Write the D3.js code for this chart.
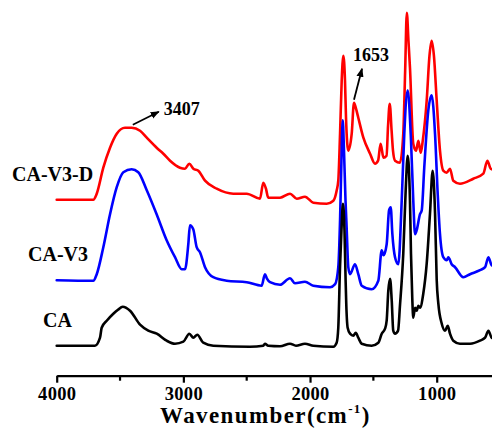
<!DOCTYPE html>
<html>
<head>
<meta charset="utf-8">
<script src="https://cdn.jsdelivr.net/npm/d3@7/dist/d3.min.js"></script>
<style>
  html, body { margin: 0; padding: 0; background: #fff; }
  svg { display: block; }
  text { font-family: "Liberation Serif", "Times New Roman", serif; font-weight: bold; fill: #000; }
</style>
</head>
<body>
<svg id="chart" width="492" height="428"></svg>
<script>
// ---- data (wavenumber cm^-1, absorbance a.u. relative to each trace's baseline) ----
const seriesNames = ["CA-V3-D", "CA-V3", "CA"];
const seriesColors = ["#ff0000", "#0000ff", "#000000"];
const seriesOffsets = [1.76, 0.955, 0.30];

const caV3D = [
  [4000,0],[3711,0],[3684,0.06],[3632,0.32],[3579,0.52],[3526,0.66],[3461,0.72],[3408,0.72],
  [3342,0.69],[3289,0.62],[3211,0.52],[3158,0.46],[3105,0.39],[3027,0.32],[2987,0.31],[2953,0.36],
  [2921,0.31],[2882,0.29],[2829,0.19],[2737,0.11],[2606,0.06],[2500,0.06],[2395,0.01],[2369,0.17],
  [2348,0.11],[2330,0.02],[2237,0.02],[2158,0.06],[2105,0.01],[2040,0.03],[1974,-0.03],[1868,-0.04],
  [1816,-0.01],[1790,0.09],[1777,0.19],[1763,0.66],[1750,1.19],[1737,1.44],[1724,1.19],[1716,0.82],
  [1698,0.49],[1671,0.66],[1653,0.97],[1637,0.91],[1619,0.82],[1579,0.62],[1526,0.46],[1487,0.36],
  [1463,0.39],[1443,0.56],[1420,0.42],[1396,0.44],[1384,0.74],[1371,0.96],[1356,0.69],[1345,0.49],
  [1329,0.39],[1290,0.37],[1264,0.66],[1249,1.29],[1236,1.87],[1223,1.59],[1211,1.32],[1185,0.56],
  [1163,0.49],[1145,0.59],[1126,0.47],[1110,0.59],[1079,0.99],[1057,1.44],[1040,1.59],[1022,1.44],
  [1000,0.99],[974,0.49],[948,0.29],[921,0.27],[895,0.31],[869,0.19],[816,0.16],[711,0.21],
  [632,0.26],[600,0.39],[574,0.31],[524,0.29]
];

const caV3 = [
  [4000,0],[3711,-0.005],[3684,0.06],[3632,0.33],[3579,0.66],[3526,0.93],[3474,1.08],[3408,1.11],
  [3356,1.08],[3289,0.90],[3211,0.66],[3132,0.40],[3066,0.23],[3013,0.11],[2987,0.11],[2961,0.36],
  [2948,0.55],[2922,0.51],[2895,0.33],[2869,0.28],[2829,0.13],[2764,0.03],[2658,-0.005],[2500,-0.02],
  [2382,-0.055],[2356,0.06],[2340,0.015],[2316,-0.02],[2237,-0.045],[2158,0.02],[2119,-0.03],[2040,-0.015],
  [1974,-0.055],[1842,-0.07],[1802,-0.04],[1777,0.13],[1763,0.6],[1752,1.2],[1742,1.6],[1732,1.3],
  [1720,0.8],[1711,0.53],[1698,0.13],[1684,0.06],[1645,0.16],[1619,0.06],[1592,-0.055],[1513,-0.09],
  [1461,-0.005],[1434,0.30],[1420,0.25],[1395,0.36],[1376,0.70],[1363,0.73],[1350,0.46],[1329,0.23],
  [1303,0.16],[1276,0.80],[1256,1.46],[1229,1.90],[1203,1.40],[1185,0.80],[1171,0.46],[1158,0.50],
  [1132,0.66],[1118,0.70],[1098,1.13],[1066,1.70],[1040,1.85],[1013,1.46],[992,0.86],[974,0.46],
  [948,0.23],[921,0.20],[908,0.23],[882,0.16],[855,0.13],[790,0.03],[737,0.06],[658,0.10],
  [618,0.13],[592,0.23],[566,0.15],[524,0.14]
];

const ca = [
  [4000,0],[3698,0],[3658,0.08],[3645,0.18],[3605,0.25],[3553,0.32],[3516,0.36],[3479,0.39],
  [3421,0.35],[3342,0.21],[3277,0.15],[3210,0.12],[3132,0.05],[3066,0.02],[3000,0.04],[2953,0.12],
  [2921,0.08],[2890,0.11],[2843,0.03],[2764,0],[2474,-0.01],[2369,0],[2356,0.02],[2330,0],
  [2237,-0.005],[2158,0.02],[2111,0],[2040,0.02],[1974,0],[1816,-0.01],[1790,0.03],[1777,0.18],
  [1763,0.8],[1752,1.15],[1740,1.42],[1728,1.15],[1719,0.65],[1714,0.42],[1703,0.18],[1684,0.12],
  [1658,0.10],[1639,0.13],[1619,0.08],[1592,0.02],[1513,0],[1461,0.03],[1434,0.12],[1408,0.17],
  [1395,0.25],[1382,0.55],[1368,0.67],[1355,0.45],[1343,0.15],[1329,0.12],[1305,0.15],[1290,0.40],
  [1264,0.92],[1245,1.55],[1229,1.9],[1211,1.45],[1203,0.92],[1193,0.48],[1185,0.28],[1171,0.38],
  [1158,0.35],[1145,0.40],[1132,0.38],[1106,0.52],[1079,0.82],[1053,1.32],[1032,1.75],[1013,1.32],
  [1000,0.66],[987,0.42],[960,0.22],[934,0.15],[913,0.20],[895,0.12],[869,0.05],[816,0.02],
  [737,0.02],[658,0.05],[618,0.08],[592,0.15],[566,0.08],[524,0.07]
];
const seriesData = [caV3D, caV3, ca];

const majorTicks = [4000, 3000, 2000, 1000];
const minorTicks = [3500, 2500, 1500];
const xTitle = "Wavenumber(cm";
const xTitleSup = "-1";

const annotations = [
  { label: "3407", wn: 3407, series: 0 },
  { label: "1653", wn: 1653, series: 0 }
];

// ---- drawing ----
const W = 492, H = 428;
const svg = d3.select("#chart");

const x = d3.scaleLinear().domain([4000, 1000]).range([56.7, 436.7]);
const y = d3.scaleLinear().domain([0, 3.7]).range([375.7, 5.7]);
const axisY = 375.7;

// traces (CA-V3-D first, CA on top)
seriesData.forEach((data, i) => {
  const line = d3.line()
    .x(d => x(d[0]))
    .y(d => y(d[1] + seriesOffsets[i]))
    .curve(d3.curveMonotoneX);
  svg.append("path")
    .datum(data)
    .attr("d", line)
    .attr("fill", "none")
    .attr("stroke", seriesColors[i])
    .attr("stroke-width", 2.6)
    .attr("stroke-linejoin", "round")
    .attr("stroke-linecap", "round");
});

// x axis
const xFull = x.copy().domain([4000, 400]).range([x(4000), x(400)]);
const axisG = svg.append("g").attr("transform", `translate(0,${axisY})`);
axisG.call(d3.axisBottom(xFull).tickValues(majorTicks).tickSize(7).tickSizeOuter(0).tickPadding(4)
  .tickFormat(d3.format("d")));
axisG.select(".domain").attr("stroke-width", 2.2).attr("stroke", "#000");
axisG.selectAll(".tick line").attr("stroke-width", 2.2).attr("stroke", "#000");
axisG.selectAll(".tick text")
  .attr("font-family", "Liberation Serif, Times New Roman, serif")
  .attr("font-weight", "bold")
  .attr("font-size", 18.5)
  .attr("letter-spacing", 0.3)
  .attr("fill", "#000");
const minorG = svg.append("g").attr("transform", `translate(0,${axisY})`);
minorG.selectAll("line").data(minorTicks).enter().append("line")
  .attr("x1", d => xFull(d)).attr("x2", d => xFull(d))
  .attr("y1", 0).attr("y2", 5)
  .attr("stroke", "#000").attr("stroke-width", 2.2);

// x title
const title = svg.append("text")
  .attr("x", 160).attr("y", 422.5)
  .attr("font-size", 23)
  .attr("letter-spacing", 1.4);
title.append("tspan").text(xTitle);
title.append("tspan").attr("dy", -10).attr("font-size", 13).text(xTitleSup);
title.append("tspan").attr("dy", 10).attr("font-size", 23).text(")");

// series labels
const labelPos = [[12, 181], [28, 261], [43, 327]];
seriesNames.forEach((n, i) => {
  svg.append("text")
    .attr("x", labelPos[i][0]).attr("y", labelPos[i][1])
    .attr("font-size", 20)
    .text(n);
});

// annotations with arrows
const defs = svg.append("defs");
defs.append("marker")
  .attr("id", "arrow")
  .attr("viewBox", "0 0 10 10")
  .attr("refX", 9).attr("refY", 5)
  .attr("markerWidth", 5).attr("markerHeight", 5)
  .attr("markerUnits", "strokeWidth")
  .attr("orient", "auto")
  .append("path").attr("d", "M0,1 L10,5 L0,9 z").attr("fill", "#000");

function valueAt(data, wn) {
  const i = data.findIndex(d => d[0] <= wn);
  if (i <= 0) return data[0][1];
  const a = data[i - 1], b = data[i];
  const t = (a[0] - wn) / (a[0] - b[0]);
  return a[1] + t * (b[1] - a[1]);
}

const annoGeom = [
  { dx0: 1, dy0: -3, dx1: 27, dy1: -16, tx: 32, ty: -13 },
  { dx0: 0, dy0: -3, dx1: 8, dy1: -34, tx: -1, ty: -42 }
];
annotations.forEach((a, k) => {
  const px = x(a.wn);
  const py = y(valueAt(seriesData[a.series], a.wn) + seriesOffsets[a.series]);
  const g = annoGeom[k];
  svg.append("line")
    .attr("x1", px + g.dx0).attr("y1", py + g.dy0)
    .attr("x2", px + g.dx1).attr("y2", py + g.dy1)
    .attr("stroke", "#000").attr("stroke-width", 1.8)
    .attr("marker-end", "url(#arrow)");
  svg.append("text")
    .attr("x", px + g.tx).attr("y", py + g.ty)
    .attr("font-size", 18)
    .text(a.label);
});
</script>
</body>
</html>
